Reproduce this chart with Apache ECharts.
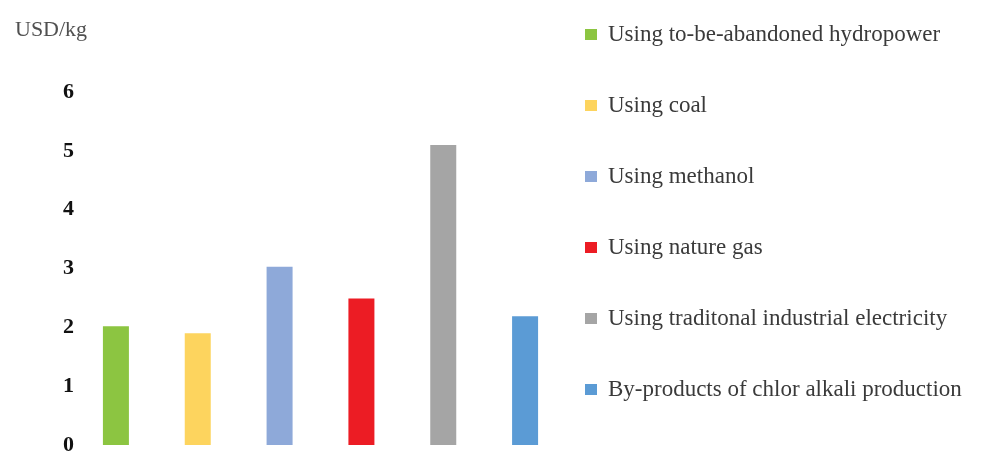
<!DOCTYPE html>
<html>
<head>
<meta charset="utf-8">
<script src="https://cdn.jsdelivr.net/npm/echarts@6/dist/echarts.min.js"></script>
<style>
html,body{margin:0;padding:0;background:#fff;}
#chart{width:991px;height:456px;}
</style>
</head>
<body>
<div id="chart"></div>
<script>
var categories = [
  'Using to-be-abandoned hydropower',
  'Using coal',
  'Using methanol',
  'Using nature gas',
  'Using traditonal industrial electricity',
  'By-products of chlor alkali production'
];
var values = [2.02, 1.9, 3.03, 2.49, 5.1, 2.19];
var colors = ['#8CC541', '#FDD45E', '#8EA9D9', '#EC1C24', '#A5A5A5', '#5B9BD5'];
var yTicks = [0, 1, 2, 3, 4, 5, 6];
var unitLabel = 'USD/kg';

var series = categories.map(function (name, i) {
  var d = categories.map(function (c, j) { return j === i ? values[i] : '-'; });
  return {
    name: name,
    type: 'bar',
    stack: 'all',
    barWidth: 26,
    data: d,
    itemStyle: { color: colors[i] }
  };
});

var chart = echarts.init(document.getElementById('chart'));
chart.setOption({
  animation: false,
  backgroundColor: '#ffffff',
  title: {
    text: unitLabel,
    left: 10,
    top: 14,
    textStyle: { fontFamily: 'Liberation Serif', fontSize: 22, fontWeight: 'normal', color: '#505050' }
  },
  legend: {
    orient: 'vertical',
    left: 580,
    top: 18,
    itemWidth: 12,
    itemHeight: 11,
    itemGap: 48,
    icon: 'rect',
    data: categories,
    textStyle: { fontFamily: 'Liberation Serif', fontSize: 23, lineHeight: 23, color: '#3a3a3a', padding: [0, 0, 0, 6] }
  },
  grid: { left: 75, right: 425, top: 92, bottom: 7, containLabel: false },
  xAxis: {
    type: 'category',
    data: categories,
    axisLine: { show: false },
    axisTick: { show: false },
    axisLabel: { show: false },
    splitLine: { show: false }
  },
  yAxis: {
    type: 'value',
    min: yTicks[0],
    max: yTicks[yTicks.length - 1],
    interval: 1,
    axisLine: { show: false },
    axisTick: { show: false },
    splitLine: { show: false },
    axisLabel: {
      margin: 1,
      fontFamily: 'Liberation Serif',
      fontSize: 22,
      fontWeight: 'bold',
      color: '#111'
    }
  },
  series: series
});
</script>
</body>
</html>
